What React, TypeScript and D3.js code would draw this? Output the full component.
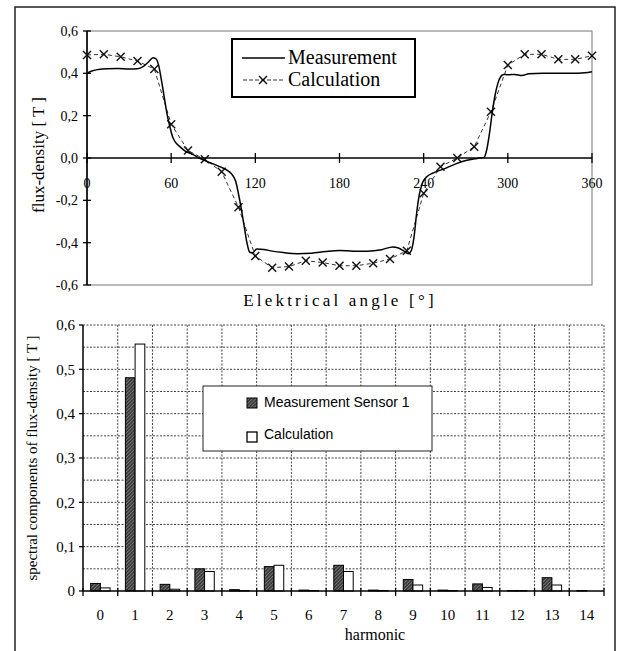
import * as d3 from "d3";

// top chart: flux density vs angle
const measAngle = [0, 3, 8, 15, 22, 30, 36, 40, 44, 47, 49, 51, 53, 55, 57, 59, 61, 63, 66, 70, 75, 80, 85, 90, 95, 100, 103, 106, 108, 110, 112, 114, 116, 118, 121, 126, 132, 140, 150, 160, 170, 180, 190, 200, 210, 218, 222, 226, 229, 231, 233, 235, 237, 239, 242, 247, 255, 262, 270, 278, 283, 285, 287, 289, 291, 293, 295, 297, 300, 305, 310, 315, 325, 335, 345, 355, 360];
const measValue = [0.4, 0.41, 0.418, 0.422, 0.423, 0.42, 0.422, 0.432, 0.455, 0.474, 0.47, 0.44, 0.37, 0.29, 0.21, 0.15, 0.1, 0.075, 0.055, 0.033, 0.018, 0.0, -0.015, -0.028, -0.042, -0.058, -0.075, -0.11, -0.17, -0.24, -0.32, -0.4, -0.445, -0.448, -0.43, -0.432, -0.44, -0.447, -0.452, -0.45, -0.442, -0.437, -0.44, -0.44, -0.433, -0.42, -0.425, -0.44, -0.452, -0.44, -0.38, -0.26, -0.17, -0.12, -0.09, -0.07, -0.05, -0.03, -0.012, -0.002, 0.003, 0.04, 0.12, 0.22, 0.3, 0.355, 0.385, 0.395, 0.393, 0.395, 0.39, 0.398, 0.4, 0.4, 0.4, 0.403, 0.408];
const calcAngle = [0, 12, 24, 36, 48, 60, 72, 84, 96, 108, 120, 132, 144, 156, 168, 180, 192, 204, 216, 228, 240, 252, 264, 276, 288, 300, 312, 324, 336, 348, 360];
const calcValue = [0.487, 0.49, 0.478, 0.458, 0.42, 0.16, 0.035, -0.006, -0.065, -0.233, -0.463, -0.518, -0.513, -0.485, -0.494, -0.509, -0.509, -0.497, -0.477, -0.438, -0.167, -0.041, 0.0, 0.053, 0.219, 0.439, 0.49, 0.49, 0.466, 0.466, 0.483];
const angleTicks = [0, 60, 120, 180, 240, 300, 360];
const fluxTicks = [0.6, 0.4, 0.2, 0.0, -0.2, -0.4, -0.6];

// bottom chart: harmonics
const harmonics = ["0", "1", "2", "3", "4", "5", "6", "7", "8", "9", "10", "11", "12", "13", "14"];
const measSpectrum = [0.017, 0.481, 0.015, 0.05, 0.003, 0.055, 0.002, 0.058, 0.002, 0.026, 0.002, 0.016, 0.001, 0.03, 0.001];
const calcSpectrum = [0.007, 0.557, 0.004, 0.044, 0.001, 0.058, 0.001, 0.044, 0.001, 0.0135, 0.001, 0.008, 0.001, 0.0135, 0.0];
const spectrumTicks = [0, 0.1, 0.2, 0.3, 0.4, 0.5, 0.6];
const spectrumGrid = [0.05, 0.1, 0.15, 0.2, 0.25, 0.3, 0.35, 0.4, 0.45, 0.5, 0.55, 0.6];

const serif = "'Liberation Serif', 'Times New Roman', serif";
const sans = "'Liberation Sans', Arial, sans-serif";

const fmt = (v: number) => {
  if (v === 0) return "0,0";
  return (v < 0 ? "-" : "") + Math.abs(v).toFixed(1).replace(".", ",");
};

const Cross = ({ x, y, s = 4 }: { x: number; y: number; s?: number }) => (
  <g stroke="#111" strokeWidth={1.4}>
    <line x1={x - s} y1={y - s} x2={x + s} y2={y + s} />
    <line x1={x - s} y1={y + s} x2={x + s} y2={y - s} />
  </g>
);

export default function App() {
  // top plot
  const tx = d3.scaleLinear().domain([0, 360]).range([87, 592]);
  const ty = d3.scaleLinear().domain([-0.6, 0.6]).range([285, 31]);
  const measLine = d3
    .line<number>()
    .x((_, i) => tx(measAngle[i]))
    .y((d) => ty(d))
    .curve(d3.curveMonotoneX);
  const calcLine = d3
    .line<number>()
    .x((_, i) => tx(calcAngle[i]))
    .y((d) => ty(d));

  // bottom plot
  const bx = d3.scaleBand().domain(harmonics).range([83, 604]);
  const by = d3.scaleLinear().domain([0, 0.6]).range([591, 325]);
  const bw = 9.7;
  const bounds = d3.range(harmonics.length + 1).map((i) => 83 + i * bx.step());

  return (
    <svg width={620} height={651} style={{ position: "absolute", left: 0, top: 0, background: "#fff" }}>
      <defs>
        <pattern id="hatch" width={2.5} height={2.5} patternUnits="userSpaceOnUse" patternTransform="rotate(45)">
          <rect width={2.5} height={2.5} fill="#3a3a3a" />
          <line x1={0} y1={0} x2={0} y2={2.5} stroke="#b0b0b0" strokeWidth={0.9} />
        </pattern>
      </defs>

      {/* outer frame */}
      <path d="M15,660 L15,7 L615,7 L615,660" fill="none" stroke="#222" strokeWidth={1.5} />

      {/* ===== top chart ===== */}
      <rect x={87} y={31} width={505} height={254} fill="none" stroke="#777" strokeWidth={1} />
      <line x1={87} x2={87} y1={31} y2={285} stroke="#000" strokeWidth={1.6} />
      {fluxTicks.map((t) => (
        <g key={t}>
          <line x1={83} x2={91} y1={ty(t)} y2={ty(t)} stroke="#000" strokeWidth={1.3} />
          <text x={78} y={ty(t)} dy="0.35em" textAnchor="end" fontFamily={serif} fontSize={14}>
            {fmt(t)}
          </text>
        </g>
      ))}
      <line x1={87} x2={592} y1={ty(0)} y2={ty(0)} stroke="#000" strokeWidth={1.4} />
      {angleTicks.map((t) => (
        <g key={t}>
          <line x1={tx(t)} x2={tx(t)} y1={ty(0) - 5} y2={ty(0) + 5} stroke="#000" strokeWidth={1.3} />
          <text x={tx(t)} y={188} textAnchor="middle" fontFamily={serif} fontSize={14}>
            {t}
          </text>
        </g>
      ))}
      <path d={calcLine(calcValue) || ""} fill="none" stroke="#333" strokeWidth={1} strokeDasharray="4,3" />
      {calcValue.map((v, i) => (
        <Cross key={i} x={tx(calcAngle[i])} y={ty(v)} />
      ))}
      <path d={measLine(measValue) || ""} fill="none" stroke="#000" strokeWidth={1.5} />

      <text
        transform="translate(44,155) rotate(-90)"
        textAnchor="middle"
        fontFamily={serif}
        fontSize={17}
      >
        flux-density [ T ]
      </text>
      <text x={340} y={306} textAnchor="middle" fontFamily={serif} fontSize={17} letterSpacing={3.2}>
        Elektrical angle [°]
      </text>

      {/* top legend */}
      <rect x={232} y={39} width={183} height={58} fill="#fff" stroke="#000" strokeWidth={2} />
      <line x1={242} x2={285} y1={58} y2={58} stroke="#000" strokeWidth={1.5} />
      <text x={288} y={64} fontFamily={serif} fontSize={20}>
        Measurement
      </text>
      <line x1={243} x2={285} y1={80} y2={80} stroke="#333" strokeWidth={1} strokeDasharray="4,2" />
      <Cross x={263} y={80} />
      <text x={288} y={86} fontFamily={serif} fontSize={20}>
        Calculation
      </text>

      {/* ===== bottom chart ===== */}
      {spectrumGrid.map((g) => (
        <line key={g} x1={83} x2={604} y1={by(g)} y2={by(g)} stroke="#444" strokeWidth={1} strokeDasharray="2,1.5" />
      ))}
      {bounds.slice(1).map((b, i) => (
        <line key={i} x1={b} x2={b} y1={325} y2={591} stroke="#444" strokeWidth={1} strokeDasharray="2,1.5" />
      ))}
      {harmonics.map((h, i) => (
        <g key={h}>
          <rect
            x={(bx(h) || 0) + bx.bandwidth() / 2 - bw}
            y={by(measSpectrum[i])}
            width={bw}
            height={591 - by(measSpectrum[i])}
            fill="url(#hatch)"
            stroke="#000"
            strokeWidth={1}
          />
          <rect
            x={(bx(h) || 0) + bx.bandwidth() / 2}
            y={by(calcSpectrum[i])}
            width={bw}
            height={591 - by(calcSpectrum[i])}
            fill="#fff"
            stroke="#000"
            strokeWidth={1}
          />
          <text
            x={(bx(h) || 0) + bx.bandwidth() / 2}
            y={620}
            textAnchor="middle"
            fontFamily={serif}
            fontSize={15}
          >
            {h}
          </text>
        </g>
      ))}
      <line x1={83} x2={83} y1={325} y2={591} stroke="#000" strokeWidth={1.5} />
      <line x1={83} x2={604} y1={591} y2={591} stroke="#000" strokeWidth={1.5} />
      {bounds.map((b, i) => (
        <line key={i} x1={b} x2={b} y1={588} y2={596} stroke="#000" strokeWidth={1.3} />
      ))}
      {spectrumTicks.map((t) => (
        <g key={t}>
          <line x1={79} x2={83} y1={by(t)} y2={by(t)} stroke="#000" strokeWidth={1.3} />
          <text x={75} y={by(t)} dy="0.35em" textAnchor="end" fontFamily={serif} fontSize={15}>
            {t === 0 ? "0" : t.toFixed(1).replace(".", ",")}
          </text>
        </g>
      ))}
      <text
        transform="translate(37,458) rotate(-90)"
        textAnchor="middle"
        fontFamily={serif}
        fontSize={15}
      >
        spectral components of flux-density [ T ]
      </text>
      <text x={375} y={640} textAnchor="middle" fontFamily={serif} fontSize={16}>
        harmonic
      </text>

      {/* bottom legend */}
      <rect x={203} y={386} width={229} height={65} fill="#fff" stroke="#222" strokeWidth={1} />
      <rect x={247} y={398} width={10} height={10} fill="url(#hatch)" stroke="#000" strokeWidth={1} />
      <text x={264} y={407} fontFamily={sans} fontSize={14}>
        Measurement Sensor 1
      </text>
      <rect x={247} y={432} width={10} height={10} fill="#fff" stroke="#000" strokeWidth={1.3} />
      <text x={264} y={439} fontFamily={sans} fontSize={14}>
        Calculation
      </text>
    </svg>
  );
}
